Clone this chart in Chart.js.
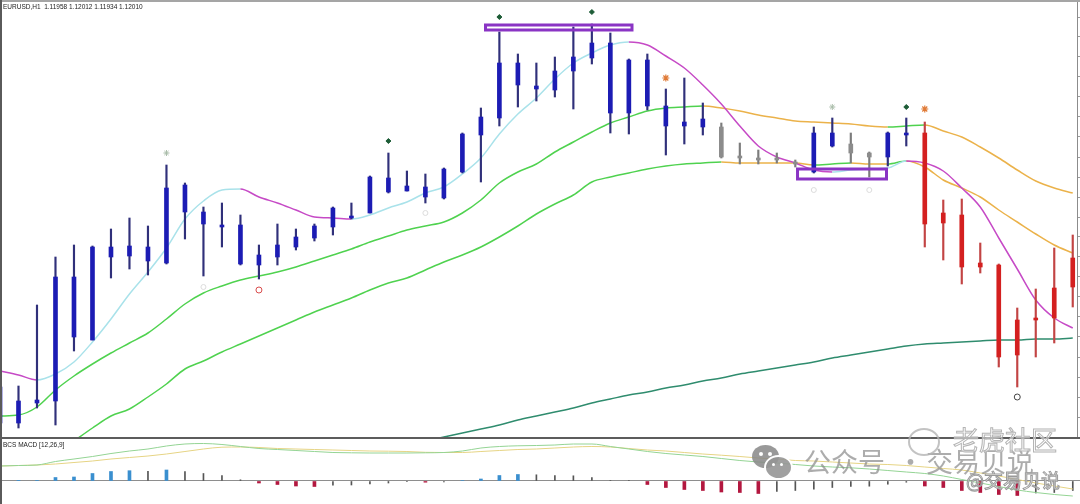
<!DOCTYPE html>
<html>
<head>
<meta charset="utf-8">
<title>EURUSD,H1</title>
<script src="https://cdn.jsdelivr.net/npm/chart.js@4.4.0/dist/chart.umd.min.js"></script>
<style>
    html, body { margin: 0; padding: 0; background: #fff; }
    #wrap { position: relative; width: 1080px; height: 504px; overflow: hidden; background: #fff; }
    #mainBox { position: absolute; left: 0; top: 0; width: 1080px; height: 437px; }
    #macdBox { position: absolute; left: 0; top: 439px; width: 1080px; height: 65px; }
    .frame-top { position: absolute; left: 0; top: 0; width: 1080px; height: 2px; background: #a5a5a5; }
    .frame-left { position: absolute; left: 0; top: 0; width: 2px; height: 504px; background: #5a5a5a; }
    .sep { position: absolute; left: 0; top: 437px; width: 1080px; height: 2px; background: #5c5c5c; }
    .label { position: absolute; font: 6.5px "Liberation Sans", Arial, sans-serif; color: #222; white-space: pre; }
    .wm { position: absolute; font-family: "Noto Sans CJK SC", sans-serif; white-space: nowrap; line-height: 1; }
    .wm-main { font-size: 27px; color: rgba(140, 140, 140, 0.72); top: 447px; }
    .wm-out { color: rgba(255, 255, 255, 0.55); -webkit-text-stroke: 1px #b4b4b4; }
    .bubble { position: absolute; border-radius: 50%; }
</style>
</head>
<body>
<div id="wrap">
    <div id="mainBox"><canvas id="priceChart"></canvas></div>
    <div id="macdBox"><canvas id="macdChart"></canvas></div>
    <div class="frame-top"></div>
    <div class="frame-left"></div>
    <div class="sep"></div>
    <div class="label" style="left:3px; top:3px;">EURUSD,H1  1.11958 1.12012 1.11934 1.12010</div>
    <div class="label" style="left:3px; top:441px;">BCS MACD [12,26,9]</div>

    <!-- watermark -->
    <div class="bubble" style="left:752px; top:445px; width:27px; height:23px; background:rgba(135,135,135,0.85);"></div>
    <div class="bubble" style="left:759px; top:452px; width:4px; height:4px; background:#fff;"></div>
    <div class="bubble" style="left:768px; top:452px; width:4px; height:4px; background:#fff;"></div>
    <div class="bubble" style="left:764px; top:455px; width:25px; height:21px; background:rgba(150,150,150,0.9); border:2px solid #fff;"></div>
    <div class="bubble" style="left:772px; top:463px; width:3px; height:3px; background:#fff;"></div>
    <div class="bubble" style="left:780px; top:463px; width:3px; height:3px; background:#fff;"></div>
    <div class="wm wm-main" style="left:804px;">公众号</div>
    <div class="wm wm-main" style="left:897px;">·</div>
    <div class="wm wm-main" style="left:926px;">交易贝说</div>
    <div class="bubble" style="left:908px; top:428px; width:28px; height:24px; border:2px solid rgba(180,180,180,0.8);"></div>
    <div class="wm wm-out" style="left:953px; top:426px; font-size:26px;">老虎社区</div>
    <div class="wm wm-out" style="left:966px; top:470px; font-size:19px; color:rgba(255,255,255,0.8); -webkit-text-stroke:1px #9a9a9a;">@交易贝说</div>
</div>

<script>
// --- Price data (EURUSD H1, one entry per candle) ---
const opens = [1.11514, 1.11536, 1.11534, 1.11536, 1.11660, 1.11597, 1.11690, 1.11681, 1.11690, 1.11674,
    1.11752, 1.11725, 1.11712, 1.11712, 1.11672, 1.11680, 1.11690, 1.11699, 1.11710, 1.11721,
    1.11724, 1.11759, 1.11746, 1.11750, 1.11739, 1.11765, 1.11802, 1.11819, 1.11874, 1.11851,
    1.11847, 1.11866, 1.11879, 1.11894, 1.11824, 1.11877, 1.11831, 1.11811, 1.11818, 1.11810,
    1.11781, 1.11779, 1.11777, 1.11775, 1.11765, 1.11804, 1.11793, 1.11784, 1.11780, 1.11804,
    1.11804, 1.11714, 1.11722, 1.11670, 1.11672, 1.11582, 1.11617, 1.11619, 1.11650];
const highs = [1.11554, 1.11551, 1.11632, 1.11680, 1.11692, 1.11691, 1.11708, 1.11719, 1.11711, 1.11772,
    1.11754, 1.11730, 1.11734, 1.11722, 1.11692, 1.11713, 1.11708, 1.11713, 1.11730, 1.11734,
    1.11761, 1.11784, 1.11766, 1.11763, 1.11769, 1.11804, 1.11829, 1.11905, 1.11883, 1.11874,
    1.11880, 1.11910, 1.11913, 1.11904, 1.11878, 1.11883, 1.11848, 1.11859, 1.11834, 1.11814,
    1.11794, 1.11787, 1.11784, 1.11777, 1.11810, 1.11819, 1.11804, 1.11785, 1.11805, 1.11819,
    1.11815, 1.11737, 1.11738, 1.11694, 1.11673, 1.11629, 1.11648, 1.11689, 1.11702];
const lows = [1.11509, 1.11509, 1.11529, 1.11512, 1.11586, 1.11597, 1.11659, 1.11668, 1.11662, 1.11673,
    1.11698, 1.11661, 1.11690, 1.11672, 1.11658, 1.11672, 1.11687, 1.11696, 1.11702, 1.11718,
    1.11724, 1.11744, 1.11746, 1.11734, 1.11738, 1.11764, 1.11755, 1.11811, 1.11830, 1.11836,
    1.11840, 1.11828, 1.11873, 1.11804, 1.11803, 1.11827, 1.11782, 1.11793, 1.11802, 1.11779,
    1.11773, 1.11773, 1.11774, 1.11770, 1.11764, 1.11790, 1.11774, 1.11760, 1.11771, 1.11791,
    1.11690, 1.11677, 1.11653, 1.11664, 1.11570, 1.11550, 1.11580, 1.11594, 1.11630];
const closes = [1.11550, 1.11514, 1.11537, 1.11660, 1.11600, 1.11690, 1.11680, 1.11691, 1.11676, 1.11749,
    1.11725, 1.11713, 1.11710, 1.11673, 1.11682, 1.11692, 1.11700, 1.11711, 1.11729, 1.11719,
    1.11760, 1.11745, 1.11751, 1.11740, 1.11768, 1.11803, 1.11820, 1.11874, 1.11852, 1.11848,
    1.11866, 1.11880, 1.11894, 1.11824, 1.11877, 1.11831, 1.11811, 1.11815, 1.11810, 1.11780,
    1.11779, 1.11777, 1.11779, 1.11773, 1.11804, 1.11791, 1.11784, 1.11780, 1.11804, 1.11802,
    1.11713, 1.11724, 1.11670, 1.11674, 1.11580, 1.11617, 1.11619, 1.11649, 1.11679];
// trend state of each bar: 1 up, 0 flat, -1 down
const trend = [1, 1, 1, 1, 1, 1, 1, 1, 1, 1, 1, 1, 1, 1, 1, 1, 1, 1, 1, 1,
    1, 1, 1, 1, 1, 1, 1, 1, 1, 1, 1, 1, 1, 1, 1, 1, 1, 1, 1, 0,
    0, 0, 0, 0, 1, 1, 0, 0, 1, 1, -1, -1, -1, -1, -1, -1, -1, -1, -1];

// --- Moving averages ---
const fastMa = [1.11566, 1.11562, 1.11557, 1.11563, 1.11575, 1.11595, 1.11618, 1.11643, 1.11665, 1.11689,
    1.11718, 1.11736, 1.11747, 1.11748, 1.11740, 1.11734, 1.11727, 1.11720, 1.11719, 1.11718,
    1.11722, 1.11729, 1.11735, 1.11744, 1.11750, 1.11763, 1.11779, 1.11803, 1.11823, 1.11839,
    1.11858, 1.11874, 1.11884, 1.11892, 1.11895, 1.11892, 1.11881, 1.11869, 1.11852, 1.11833,
    1.11811, 1.11791, 1.11780, 1.11774, 1.11767, 1.11765, 1.11767, 1.11768, 1.11769, 1.11776,
    1.11774, 1.11766, 1.11749, 1.11730, 1.11699, 1.11668, 1.11637, 1.11619, 1.11609];
const midMa = [1.11521, 1.11522, 1.11530, 1.11547, 1.11561, 1.11573, 1.11584, 1.11594, 1.11604, 1.11618,
    1.11633, 1.11644, 1.11651, 1.11657, 1.11661, 1.11665, 1.11670, 1.11676, 1.11682, 1.11688,
    1.11695, 1.11701, 1.11707, 1.11711, 1.11715, 1.11724, 1.11737, 1.11754, 1.11765, 1.11773,
    1.11785, 1.11795, 1.11805, 1.11814, 1.11820, 1.11826, 1.11829, 1.11830, 1.11831, 1.11829,
    1.11826, 1.11822, 1.11819, 1.11816, 1.11815, 1.11814, 1.11813, 1.11811, 1.11810, 1.11811,
    1.11812, 1.11806, 1.11800, 1.11790, 1.11779, 1.11767, 1.11756, 1.11749, 1.11744];
const slowMa = [null, null, null, null, 1.11496, 1.11509, 1.11521, 1.11528, 1.11540, 1.11553,
    1.11568, 1.11576, 1.11585, 1.11593, 1.11601, 1.11609, 1.11617, 1.11625, 1.11632, 1.11639,
    1.11647, 1.11654, 1.11659, 1.11667, 1.11675, 1.11682, 1.11690, 1.11700, 1.11711, 1.11723,
    1.11733, 1.11742, 1.11755, 1.11760, 1.11764, 1.11768, 1.11771, 1.11773, 1.11774, 1.11775,
    1.11774, 1.11774, 1.11774, 1.11774, 1.11772, 1.11773, 1.11774, 1.11773, 1.11773, 1.11776,
    1.11770, 1.11757, 1.11749, 1.11740, 1.11727, 1.11715, 1.11703, 1.11692, 1.11684];
const longMa = [null, null, null, null, null, null, null, null, null, null,
    null, null, null, null, null, null, null, null, null, null,
    null, null, null, 1.11496, 1.11500, 1.11504, 1.11508, 1.11512, 1.11517, 1.11521,
    1.11525, 1.11529, 1.11534, 1.11538, 1.11542, 1.11545, 1.11549, 1.11552, 1.11556, 1.11559,
    1.11563, 1.11566, 1.11569, 1.11572, 1.11575, 1.11579, 1.11582, 1.11585, 1.11588, 1.11591,
    1.11593, 1.11594, 1.11595, 1.11596, 1.11597, 1.11597, 1.11598, 1.11598, 1.11599];

// --- Signals ---
const topSignalIdx = [21, 27, 32, 49];
const topSignalPrice = [1.11796, 1.11920, 1.11925, 1.11830];
const weakSignalIdx = [9, 45];
const weakSignalPrice = [1.11784, 1.11830];
const arrowIdx = [36, 50];
const arrowPrice = [1.11859, 1.11828];
const lowRedIdx = [14];
const lowRedPrice = [1.11647];
const lowDarkIdx = [55];
const lowDarkPrice = [1.11540];
const lowFaintIdx = [11, 23, 44, 47];
const lowFaintPrice = [1.11650, 1.11724, 1.11747, 1.11747];

// --- Marked ranges (bar index / price) ---
const boxFrom = [26.25, 43.12];
const boxTo = [34.17, 47.93];
const boxHigh = [1.11912, 1.11768];
const boxLow = [1.11907, 1.11758];

// --- BCS MACD (12,26,9), in points ---
const macdMain = [15, 15.5, 16, 19.5, 22, 24.5, 27.5, 30, 32, 35,
    37, 37.5, 36.5, 34.5, 32.5, 31.5, 30.5, 29.5, 28.5, 28.2,
    28, 28, 28, 28.2, 28.5, 30, 33, 34.5, 35.2, 35.5,
    36, 37, 37, 34.5, 32, 29.5, 27.5, 26, 24.5, 22.5,
    20.5, 19, 18, 16.5, 15, 14, 13.2, 12, 10.5, 9,
    7.5, 5, 1.5, -2, -5.5, -9, -11.5, -13.5, -15];
const macdSignal = [15, 15.5, 16, 17, 18.5, 20, 22, 23.5, 25, 27,
    29.5, 32, 33.8, 34, 33.5, 32.5, 32, 31.5, 31, 30.5,
    30, 29.8, 29.5, 28.7, 28.5, 28.5, 29.5, 30.5, 31.5, 32,
    33, 34, 34.5, 34, 32.5, 31, 30, 28.5, 27, 25.8,
    24.5, 23, 22, 20.5, 20, 19, 18, 17, 16.5, 15.5,
    14, 12.5, 11, 8, 5, 1.5, -2, -5, -8];
const macdHist = [0, 0.3, 0.6, 3.5, 4, 7.5, 9.5, 10.3, 9.6, 11,
    9.5, 7.5, 5.5, 1.2, -2, -3.5, -5, -5.5, -4.2, -4,
    -3, -2, -0.6, -1.2, -0.8, 0.5, 2, 5.5, 6.5, 6.2,
    5.5, 5.2, 3.5, 0.6, 0.4, -3.5, -6.5, -8.5, -9.5, -11,
    -11.5, -12.5, -10.5, -9.5, -8.2, -6.5, -5.5, -5.2, -3.2, -1.2,
    -5, -6.5, -9.5, -11.5, -13.5, -14.5, -12, -11.5, -9.5];

document.addEventListener('DOMContentLoaded', function () {
    const bodyColor = s => s > 0 ? '#1c1cb4' : (s < 0 ? '#d42020' : '#8c8c8c');
    const wickColor = s => s > 0 ? '#30307a' : (s < 0 ? '#c24444' : '#7c7c7c');
    const series = arr => arr.map((v, i) => ({ x: i, y: v }));
    const marks = (idx, price) => idx.map((i, k) => ({ x: i, y: price[k] }));
    const dirColor = (up, down) => ctx => ctx.p1.parsed.y > ctx.p0.parsed.y ? up : down;

    const lineSet = (data, color, width, order) => ({
        type: 'line',
        data: series(data),
        borderWidth: width,
        pointRadius: 0,
        cubicInterpolationMode: 'monotone',
        spanGaps: false,
        segment: typeof color === 'function' ? { borderColor: color } : undefined,
        borderColor: typeof color === 'function' ? '#000' : color,
        order: order
    });

    // boxes drawn over the price bars
    const boxPlugin = {
        id: 'boxes',
        afterDatasetsDraw(chart) {
            const { ctx, scales: { x, y } } = chart;
            ctx.save();
            ctx.strokeStyle = '#8a34c4';
            ctx.lineWidth = 3;
            boxFrom.forEach((from, k) => {
                const left = x.getPixelForValue(from);
                const right = x.getPixelForValue(boxTo[k]);
                const top = y.getPixelForValue(boxHigh[k]);
                const bottom = y.getPixelForValue(boxLow[k]);
                ctx.strokeRect(left, top, right - left, bottom - top);
            });
            ctx.restore();
        }
    };

    // --- Price chart ---
    new Chart(document.getElementById('priceChart'), {
        type: 'bar',
        data: {
            datasets: [
                {
                    type: 'scatter', data: marks(topSignalIdx, topSignalPrice), pointStyle: 'rectRot',
                    pointRadius: 2.5, backgroundColor: '#1d5c36', borderColor: '#1d5c36', order: 0
                },
                {
                    type: 'scatter', data: marks(weakSignalIdx, weakSignalPrice), pointStyle: 'star',
                    pointRadius: 3, backgroundColor: '#fff', borderColor: '#a9bca9', borderWidth: 1, order: 0
                },
                {
                    type: 'scatter', data: marks(arrowIdx, arrowPrice), pointStyle: 'star',
                    pointRadius: 3.5, backgroundColor: '#fff', borderColor: '#e07a36', borderWidth: 1.2, order: 0
                },
                {
                    type: 'scatter', data: marks(lowRedIdx, lowRedPrice), pointStyle: 'circle',
                    pointRadius: 3, backgroundColor: '#fff', borderColor: '#d84a4a', borderWidth: 1, order: 0
                },
                {
                    type: 'scatter', data: marks(lowDarkIdx, lowDarkPrice), pointStyle: 'circle',
                    pointRadius: 3, backgroundColor: '#fff', borderColor: '#444', borderWidth: 1, order: 0
                },
                {
                    type: 'scatter', data: marks(lowFaintIdx, lowFaintPrice), pointStyle: 'circle',
                    pointRadius: 2.5, backgroundColor: '#fff', borderColor: '#dcdcdc', borderWidth: 1, order: 0
                },
                {
                    label: 'body',
                    data: opens.map((o, i) => ({ x: i, y: [o, closes[i]] })),
                    backgroundColor: trend.map(bodyColor),
                    barThickness: 4,
                    minBarLength: 1.5,
                    grouped: false,
                    order: 1
                },
                {
                    label: 'wick',
                    data: lows.map((l, i) => ({ x: i, y: [l, highs[i]] })),
                    backgroundColor: trend.map(wickColor),
                    barThickness: 1.5,
                    grouped: false,
                    order: 2
                },
                lineSet(fastMa, dirColor('#a9e2ea', '#c64ac6'), 1.5, 3),
                lineSet(midMa, dirColor('#4fd24f', '#ebb24a'), 1.5, 4),
                lineSet(slowMa, dirColor('#4fd24f', '#ebb24a'), 1.5, 5),
                lineSet(longMa, '#2f8c6e', 1.5, 6)
            ]
        },
        options: {
            responsive: true,
            maintainAspectRatio: false,
            animation: false,
            events: [],
            layout: { padding: 0, autoPadding: false },
            plugins: {
                legend: { display: false },
                tooltip: { enabled: false }
            },
            scales: {
                x: { type: 'linear', min: 0, max: 58.23, offset: false, display: false, grid: { offset: false } },
                y: {
                    type: 'linear',
                    position: 'right',
                    min: 1.11500,
                    max: 1.11937,
                    ticks: { display: false, stepSize: 0.0002 },
                    grid: { drawOnChartArea: false, tickLength: 3, color: '#9a9a9a' },
                    border: { color: '#8c8c8c' },
                    afterFit: scale => { scale.width = 3; }
                }
            }
        },
        plugins: [boxPlugin]
    });

    // --- MACD chart ---
    const isThick = (v, i) => {
        const prev = i > 0 ? macdHist[i - 1] : 0;
        return (v > 0 && v > prev) || (v < 0 && v < prev);
    };

    new Chart(document.getElementById('macdChart'), {
        type: 'bar',
        data: {
            datasets: [
                lineSet(macdMain, '#94d494', 1, 0),
                lineSet(macdSignal, '#e6d484', 1, 1),
                {
                    data: macdHist.map((v, i) => ({ x: i, y: isThick(v, i) ? v : null })),
                    backgroundColor: macdHist.map(v => v > 0 ? '#3a8fcf' : '#b3173f'),
                    barThickness: 3,
                    grouped: false,
                    order: 2
                },
                {
                    data: macdHist.map((v, i) => ({ x: i, y: isThick(v, i) ? null : v })),
                    backgroundColor: '#555',
                    barThickness: 1,
                    grouped: false,
                    order: 3
                }
            ]
        },
        options: {
            responsive: true,
            maintainAspectRatio: false,
            animation: false,
            events: [],
            layout: { padding: 0, autoPadding: false },
            plugins: {
                legend: { display: false },
                tooltip: { enabled: false }
            },
            scales: {
                x: { type: 'linear', min: 0, max: 58.39, offset: false, display: false, grid: { offset: false } },
                y: {
                    type: 'linear',
                    min: -23,
                    max: 42,
                    ticks: { display: false, stepSize: 10 },
                    grid: {
                        drawTicks: false,
                        color: ctx => ctx.tick && ctx.tick.value === 0 ? '#8e8e8e' : 'rgba(0,0,0,0)'
                    },
                    border: { display: false },
                    afterFit: scale => { scale.width = 0; }
                }
            }
        }
    });
});
</script>
</body>
</html>
